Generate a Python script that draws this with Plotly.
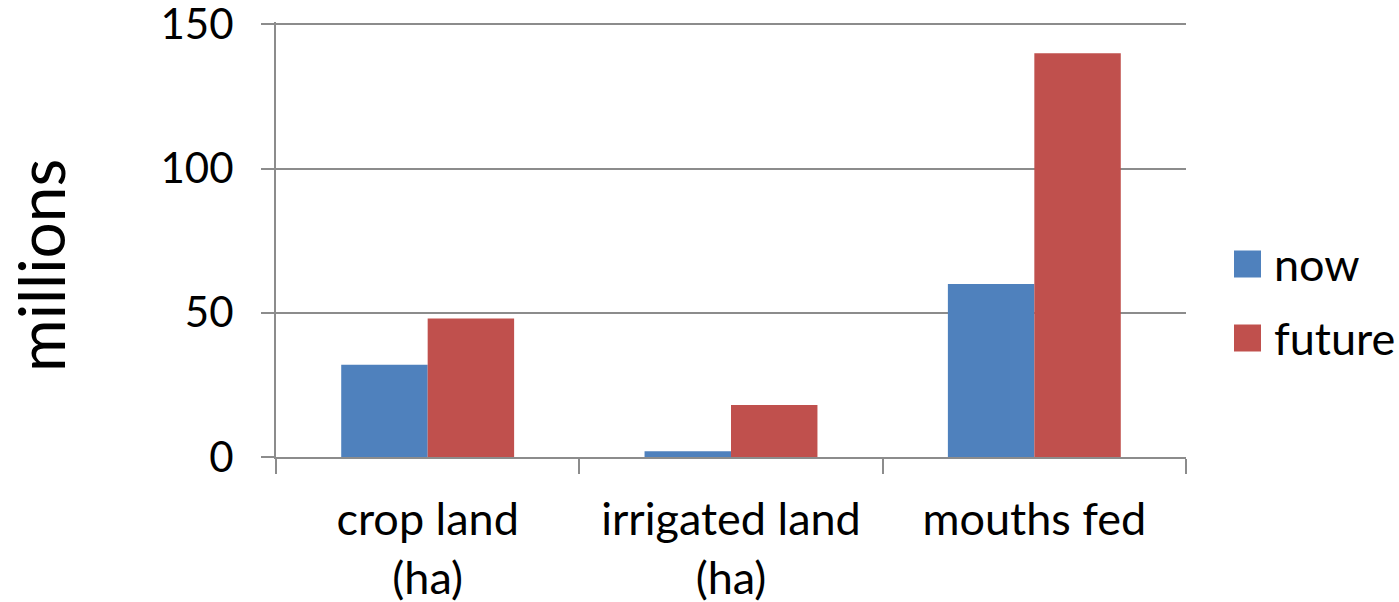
import plotly.graph_objects as go

categories = ["crop land<br>(ha)", "irrigated land<br>(ha)", "mouths fed"]
series_names = ["now", "future"]
now_values = [32, 2, 60]
future_values = [48, 18, 140]
y_ticks = [0, 50, 100, 150]

FONT = "Lato, Open Sans, sans-serif"
GRID = "#8c8c8c"
COLORS = ["#4F81BD", "#C0504D"]

# plot area geometry in pixels
W, H = 1399, 602
L, R, T, B = 276, 213, 22, 145
PW, PH = W - L - R, H - T - B


def px_x(x):
    return (x - L) / PW


def px_y(y):
    return (H - B - y) / PH


fig = go.Figure()
for name, vals, color in zip(series_names, [now_values, future_values], COLORS):
    fig.add_trace(go.Bar(name=name, x=categories, y=vals, marker_color=color,
                         marker_line_width=0, showlegend=False))

# legend: square swatches with labels to the right of the plot
for i, (name, color) in enumerate(zip(series_names, COLORS)):
    cy = 264 + 74 * i
    fig.add_shape(type="rect", xref="paper", yref="paper",
                  x0=px_x(1234), x1=px_x(1261), y0=px_y(cy + 13.5), y1=px_y(cy - 13.5),
                  fillcolor=color, line_width=0)
    fig.add_annotation(text=name, xref="paper", yref="paper", x=px_x(1272), y=px_y(cy),
                       xanchor="left", yanchor="middle", showarrow=False,
                       font=dict(size=45))

fig.update_layout(
    width=W, height=H,
    margin=dict(l=L, r=R, t=T, b=B),
    paper_bgcolor="white", plot_bgcolor="white",
    barmode="group", bargap=0.43, bargroupgap=0,
    font=dict(family=FONT, size=45, color="black"),
    showlegend=False,
)
fig.update_yaxes(
    range=[0, 150.8], tickvals=y_ticks, showgrid=True, gridcolor=GRID, gridwidth=2,
    showline=True, linecolor=GRID, linewidth=2, ticks="outside", ticklen=13,
    tickcolor=GRID, tickwidth=2, zeroline=False, ticklabelstandoff=19,
    tickfont=dict(size=42), ticklabeloverflow="allow", automargin=False,
)
fig.update_xaxes(
    showline=True, linecolor=GRID, linewidth=2, ticks="outside", tickson="boundaries",
    ticklen=15, tickcolor=GRID, tickwidth=2, showgrid=False, ticklabelstandoff=22,
    automargin=False,
)
fig.add_annotation(text="millions", xref="paper", yref="paper", x=px_x(40), y=px_y(265),
                   xanchor="center", yanchor="middle", textangle=-90,
                   showarrow=False, font=dict(size=64))

fig.write_html("out.html")
